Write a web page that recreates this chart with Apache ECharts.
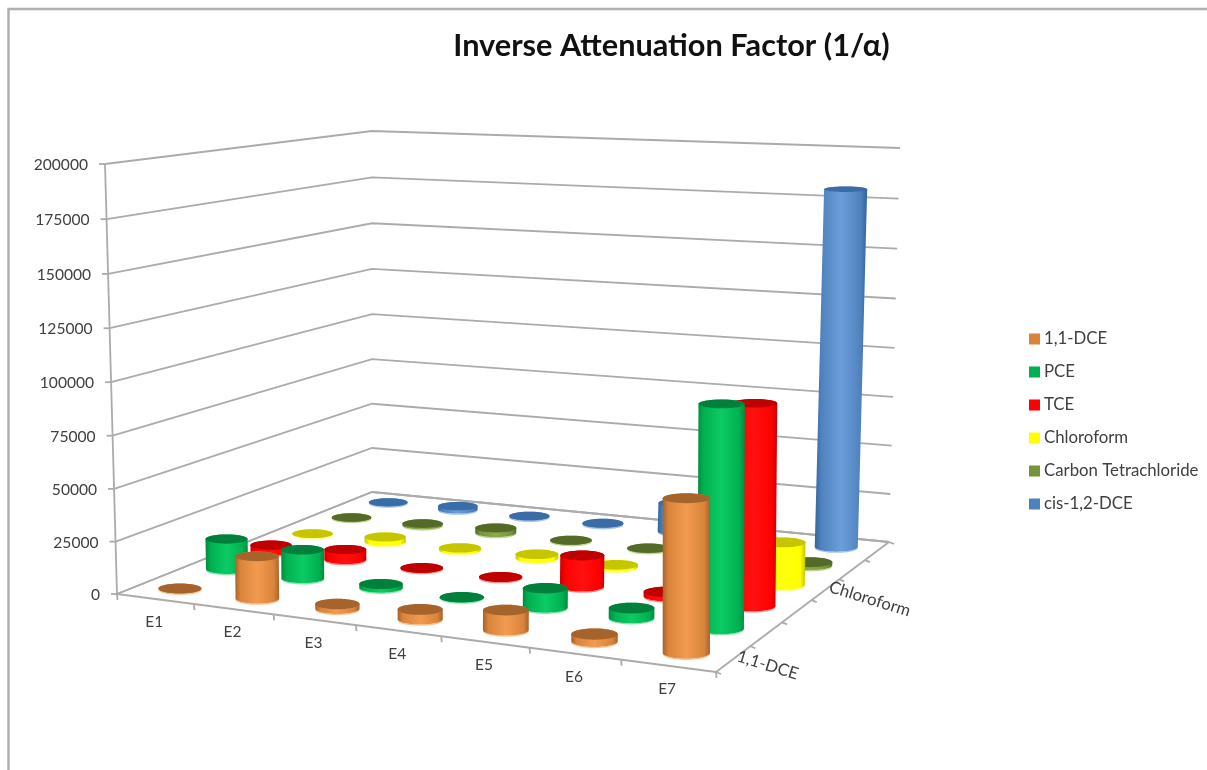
<!DOCTYPE html>
<html>
<head>
<meta charset="utf-8">
<style>html,body{margin:0;padding:0;background:#fff}#c{width:1207px;height:770px}</style>
<script src="https://cdn.jsdelivr.net/npm/echarts@6/dist/echarts.min.js"></script>
</head>
<body>
<div id="c"></div>
<script>
const categories = ['E1','E2','E3','E4','E5','E6','E7'];
const seriesNames = ['1,1-DCE','PCE','TCE','Chloroform','Carbon Tetrachloride','cis-1,2-DCE'];
const dce11 = [100, 20000, 2200, 4500, 9000, 3200, 67000];
const pce = [15000, 14000, 1800, 100, 9000, 4500, 100500];
const tce = [3000, 5000, 100, 100, 15000, 2000, 94000];
const chloroform = [100, 2500, 1000, 2000, 1000, 100, 20600];
const carbonTet = [100, 800, 2500, 100, 100, 100, 1500];
const cisDce = [100, 1800, 300, 300, 15000, 100, 180500];
const valueRows = [dce11, pce, tce, chloroform, carbonTet, cisDce];
const yTicks = [0,25000,50000,75000,100000,125000,150000,175000,200000];
const seriesAxisLabels = {0:'1,1-DCE', 3:'Chloroform'};

const swatch = ['#D9843B','#00B050','#FF0000','#FFFF00','#77933C','#4F81BD'];
const edge   = ['#A8622B','#008A3E','#C80000','#C4C400','#556B2A','#34629B'];
const lit    = ['#F29A50','#0CCB64','#FF1010','#FFFF10','#8CAB48','#6C9EDC'];
const cap    = ['#A5642C','#00803A','#BE0000','#C6C600','#566A28','#3A6DA8'];
const rim    = ['#F7C79B','#8CE6B4','#FF9090','#FFFF99','#C2D69B','#A4C4E8'];

const GRID = {left:105, top:164, width:611, height:429};
const FLOOR = [[117,594],[716,672],[889,542],[372,492]];
const ROOF  = [[105,164],[714,188],[900,148],[372,131]];

function homography(q){
  const [[x0,y0],[x1,y1],[x2,y2],[x3,y3]] = q;
  const dx1=x1-x2, dx2=x3-x2, sx=x0-x1+x2-x3;
  const dy1=y1-y2, dy2=y3-y2, sy=y0-y1+y2-y3;
  const den=dx1*dy2-dx2*dy1;
  const g=(sx*dy2-dx2*sy)/den, h=(dx1*sy-sx*dy1)/den;
  const a=x1-x0+g*x1, b=x3-x0+h*x3, d=y1-y0+g*y1, e=y3-y0+h*y3;
  return (u,v)=>{const w=g*u+h*v+1; return [(a*u+b*v+x0)/w,(d*u+e*v+y0)/w];};
}
const floorH = homography(FLOOR), roofH = homography(ROOF);
function project(u,v,w){
  const uu=u+0.025*u*(1-u);
  const f=floorH(uu,v), r=roofH(uu,v);
  const ww=w/(1+0.03*(1-w));
  return [f[0]+(r[0]-f[0])*ww, f[1]+(r[1]-f[1])*ww];
}
function wOf(api,val){ return (GRID.top+GRID.height-api.coord([0,val])[1])/GRID.height; }
function uOf(api,i){ return (api.coord([i,0])[0]-GRID.left)/GRID.width; }
function flat(y){ return 0.11+0.00025*(y-100); }

function ellipsePts(cx,cy,rx,ry,from,to,n){
  const out=[];
  for(let k=0;k<=n;k++){const t=from+(to-from)*k/n; out.push([cx+rx*Math.cos(t),cy+ry*Math.sin(t)]);}
  return out;
}
function renderBar(params,api){
  const j=params.seriesIndex-2;
  const i=api.value(0), val=api.value(1);
  const u=uOf(api,i), v=(j+0.5)/seriesNames.length;
  const w=wOf(api,val);
  const base=project(u,v,0), top=project(u,v,w);
  const rx=19+2.5*u+2.5*(1-v);
  const ryB=rx*flat(base[1]), ryT=rx*flat(top[1]);
  const z=Math.round(base[1]*10);
  const body=[[base[0]-rx,base[1]]].concat(
    ellipsePts(base[0],base[1],rx,ryB,Math.PI,0,24),
    ellipsePts(top[0],top[1],rx,ryT,0,-Math.PI,24));
  const rimPts=ellipsePts(base[0],base[1]+1.2,rx,ryB,Math.PI,0,24).concat(ellipsePts(base[0],base[1],rx,ryB,0,Math.PI,24));
  return {type:'group',children:[
    {type:'polygon',z2:z,shape:{points:rimPts},style:{fill:rim[j]}},
    {type:'polygon',z2:z+1,shape:{points:body},style:{fill:{type:'linear',x:0,y:0,x2:1,y2:0,colorStops:[
      {offset:0,color:edge[j]},{offset:0.12,color:swatch[j]},{offset:0.5,color:lit[j]},{offset:0.88,color:swatch[j]},{offset:1,color:edge[j]}]}}},
    {type:'ellipse',z2:z+2,shape:{cx:top[0],cy:top[1],rx:rx,ry:ryT},style:{fill:cap[j]}}
  ]};
}
const lineC='#ababab', lineW=1.8, textC='#404040';
function renderWall(params,api){
  const w=wOf(api,api.value(1));
  const p=project(0,0,w);
  return {type:'group',children:[
    {type:'polyline',z2:1,shape:{points:[p,project(0,1,w),project(1,1,w)]},style:{fill:null,stroke:lineC,lineWidth:lineW}},
    {type:'line',z2:2,shape:{x1:p[0]-6,y1:p[1],x2:p[0],y2:p[1]},style:{stroke:lineC,lineWidth:lineW}},
    {type:'text',z2:3,x:p[0]-17,y:p[1]+1,style:{text:String(api.value(1)),font:'15.6px Lato',fill:textC,align:'right',verticalAlign:'middle'}}
  ]};
}
function renderFrame(params,api){
  const kids=[];
  const line=(a,b)=>kids.push({type:'line',z2:2,shape:{x1:a[0],y1:a[1],x2:b[0],y2:b[1]},style:{stroke:lineC,lineWidth:lineW}});
  line(project(0,0,0),project(1,0,0));
  line(project(1,0,0),project(1,1,0));
  line(project(0,0,0),project(0,1,0));
  line(project(0,1,0),project(1,1,0));
  line(project(0,0,0),project(0,0,1));
  const n=categories.length, m=seriesNames.length;
  for(let k=0;k<=n;k++){const p=project(k/n,0,0); line(p,[p[0]+0.5,p[1]+6]);}
  for(let k=0;k<=m;k++){const p=project(1,k/m,0); line(p,[p[0]+5,p[1]+2]);}
  categories.forEach((c,k)=>{
    const p=project((k+0.5)/n,0,0);
    kids.push({type:'text',z2:3,x:p[0]-1,y:p[1]+23,style:{text:c,font:'15.5px Lato',fill:textC,align:'center',verticalAlign:'middle'}});
  });
  Object.keys(seriesAxisLabels).forEach(k=>{
    const p=project(1,(+k+0.5)/m,0);
    kids.push({type:'text',z2:3,x:p[0]+4,y:p[1]-3,rotation:-0.3,style:{text:seriesAxisLabels[k],font:'16.8px Lato',fill:textC,align:'left',verticalAlign:'middle'}});
  });
  return {type:'group',children:kids};
}
const series=[
  {type:'custom',name:'walls',coordinateSystem:'cartesian2d',silent:true,z:1,renderItem:renderWall,data:yTicks.map(t=>[0,t]),encode:{x:0,y:1}},
  {type:'custom',name:'frame',coordinateSystem:'cartesian2d',silent:true,z:1,renderItem:renderFrame,data:[[0,0]],encode:{x:0,y:1}}
];
seriesNames.forEach((name,j)=>{
  series.push({type:'custom',name:name,coordinateSystem:'cartesian2d',z:2,renderItem:renderBar,
    itemStyle:{color:swatch[j]},encode:{x:0,y:1},
    data:valueRows[j].map((val,i)=>[i,val])});
});
const chart=echarts.init(document.getElementById('c'),null,{renderer:'canvas'});
chart.setOption({
  animation:false,
  backgroundColor:'#fff',
  title:{text:'Inverse Attenuation Factor (1/α)',left:666.5,top:26,textAlign:'center',
    textStyle:{fontFamily:'Lato',fontWeight:'bold',fontSize:30.7,color:'#111'}},
  legend:{data:seriesNames,orient:'vertical',left:1024,top:325.5,itemWidth:11,itemHeight:11,itemGap:16,icon:'rect',
    textStyle:{fontFamily:'Lato',fontSize:16.8,color:textC,padding:[0,0,0,-1]}},
  grid:GRID,
  xAxis:{type:'category',data:categories,show:false},
  yAxis:{type:'value',min:0,max:200000,interval:25000,show:false},
  graphic:[{type:'polyline',silent:true,shape:{points:[[8.5,770],[8.5,9],[1207,9]]},style:{fill:null,stroke:'#b0b0b0',lineWidth:2.5}}],
  series:series
});
</script>
</body>
</html>
